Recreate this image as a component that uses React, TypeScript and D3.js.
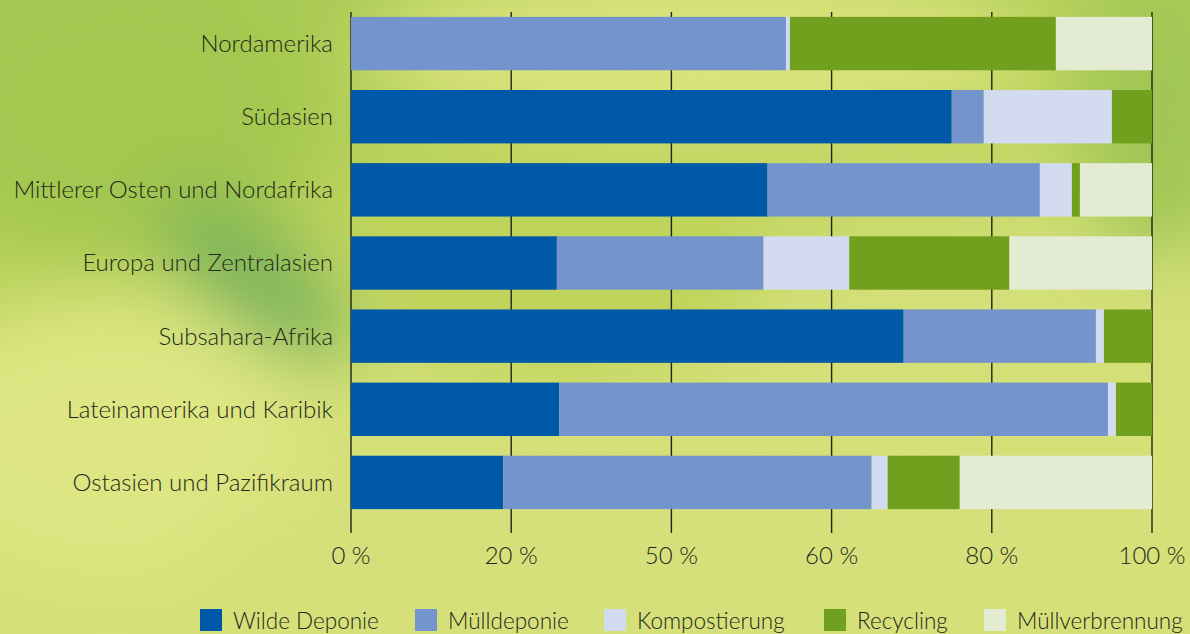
import React, { useRef, useEffect } from 'react';
import * as d3 from 'd3';

const regions = [
  'Nordamerika',
  'Südasien',
  'Mittlerer Osten und Nordafrika',
  'Europa und Zentralasien',
  'Subsahara-Afrika',
  'Lateinamerika und Karibik',
  'Ostasien und Pazifikraum',
];

const seriesNames = ['Wilde Deponie', 'Mülldeponie', 'Kompostierung', 'Recycling', 'Müllverbrennung'];
const seriesColors = ['#0058a8', '#7394cc', '#d2dbef', '#70a01e', '#e3ebd3'];

// percent per region, in region order
const wildeDeponie = [0, 75, 52, 25.7, 69, 26, 19];
const muelldeponie = [54.3, 4, 34, 25.8, 24, 68.5, 46];
const kompostierung = [0.5, 16, 4, 10.7, 1, 1, 2];
const recycling = [33.2, 5, 1, 20, 6, 4.5, 9];
const muellverbrennung = [12, 0, 9, 17.8, 0, 0, 24];

const tickValues = [0, 20, 40, 60, 80, 100];
const tickLabels = ['0 %', '20 %', '50 %', '60 %', '80 %', '100 %'];

const W = 1190;
const H = 634;
const FONT = 'Lato, "Open Sans", sans-serif';
const TEXT = '#24281a';

function Chart() {
  const svgRef = useRef<SVGSVGElement>(null);

  useEffect(() => {
    const svg = d3.select(svgRef.current);
    svg.selectAll('*').remove();

    const margin = { top: 17, left: 351, right: 38, bottom: 125 };
    const x = d3.scaleLinear().domain([0, 100]).range([margin.left, W - margin.right]);
    const y = d3
      .scaleBand()
      .domain(regions)
      .range([margin.top - 10, H - margin.bottom + 10])
      .paddingInner(0.27)
      .paddingOuter(0.135);

    // background
    const defs = svg.append('defs');
    const bg = defs
      .append('linearGradient')
      .attr('id', 'bg')
      .attr('x1', 0)
      .attr('y1', 0)
      .attr('x2', 0.35)
      .attr('y2', 1);
    bg.append('stop').attr('offset', '0%').attr('stop-color', '#a7c953');
    bg.append('stop').attr('offset', '40%').attr('stop-color', '#bcd35c');
    bg.append('stop').attr('offset', '65%').attr('stop-color', '#d3df78');
    bg.append('stop').attr('offset', '100%').attr('stop-color', '#d6e077');
    defs
      .append('filter')
      .attr('id', 'blur')
      .attr('filterUnits', 'userSpaceOnUse')
      .attr('x', -200)
      .attr('y', -200)
      .attr('width', W + 400)
      .attr('height', H + 400)
      .append('feGaussianBlur')
      .attr('stdDeviation', 35);

    svg.append('rect').attr('width', W).attr('height', H).attr('fill', 'url(#bg)');
    const blobs = svg.append('g').attr('filter', 'url(#blur)');
    blobs.append('ellipse').attr('cx', 700).attr('cy', 50).attr('rx', 330).attr('ry', 80).attr('fill', '#dbe47e');
    blobs.append('ellipse').attr('cx', 120).attr('cy', 110).attr('rx', 200).attr('ry', 150).attr('fill', '#a3c74f');
    blobs.append('ellipse').attr('cx', 1160).attr('cy', 110).attr('rx', 80).attr('ry', 150).attr('fill', '#a0c655');
    blobs.append('ellipse').attr('cx', 110).attr('cy', 440).attr('rx', 200).attr('ry', 140).attr('fill', '#dde682');
    blobs.append('ellipse').attr('cx', 700).attr('cy', 550).attr('rx', 500).attr('ry', 110).attr('fill', '#d6e07a');
    blobs
      .append('ellipse')
      .attr('cx', 255)
      .attr('cy', 280)
      .attr('rx', 115)
      .attr('ry', 50)
      .attr('transform', 'rotate(40 255 280)')
      .attr('fill', '#7cb45a');
    blobs.append('ellipse').attr('cx', 560).attr('cy', 260).attr('rx', 200).attr('ry', 120).attr('fill', '#bfd45a');

    // vertical grid / tick lines
    svg
      .append('g')
      .selectAll('line')
      .data(tickValues)
      .join('line')
      .attr('x1', (d) => x(d))
      .attr('x2', (d) => x(d))
      .attr('y1', 12)
      .attr('y2', 533)
      .attr('stroke', '#1e2410')
      .attr('stroke-width', 1.4);

    // stacked bars
    const seriesData = [wildeDeponie, muelldeponie, kompostierung, recycling, muellverbrennung];
    const rows = regions.map((r, i) => {
      const row: Record<string, number | string> = { region: r };
      seriesNames.forEach((s, k) => (row[s] = seriesData[k][i]));
      return row;
    });
    const stack = d3.stack<Record<string, number | string>>().keys(seriesNames).value((d, k) => d[k] as number);
    const stacked = stack(rows);

    svg
      .append('g')
      .selectAll('g')
      .data(stacked)
      .join('g')
      .attr('fill', (_, i) => seriesColors[i])
      .selectAll('rect')
      .data((d) => d)
      .join('rect')
      .attr('x', (d) => x(d[0]))
      .attr('width', (d) => Math.max(0, x(d[1]) - x(d[0])))
      .attr('y', (d) => y(d.data.region as string)!)
      .attr('height', y.bandwidth());

    // category labels
    svg
      .append('g')
      .selectAll('text')
      .data(regions)
      .join('text')
      .attr('x', 333)
      .attr('y', (d) => y(d)! + y.bandwidth() / 2)
      .attr('dy', '0.35em')
      .attr('text-anchor', 'end')
      .attr('font-family', FONT)
      .attr('font-weight', 300)
      .attr('font-size', 24)
      .attr('fill', TEXT)
      .text((d) => d);

    // x tick labels
    svg
      .append('g')
      .selectAll('text')
      .data(tickValues)
      .join('text')
      .attr('x', (d) => x(d))
      .attr('y', 556)
      .attr('dy', '0.35em')
      .attr('text-anchor', 'middle')
      .attr('font-family', FONT)
      .attr('font-weight', 300)
      .attr('font-size', 24)
      .attr('fill', TEXT)
      .text((_, i) => tickLabels[i]);

    // legend
    const legendX = [200, 415, 604, 824, 984];
    const lg = svg
      .append('g')
      .selectAll('g')
      .data(seriesNames)
      .join('g')
      .attr('transform', (_, i) => `translate(${legendX[i]}, 609)`);
    lg.append('rect')
      .attr('width', 22)
      .attr('height', 22)
      .attr('fill', (_, i) => seriesColors[i]);
    lg.append('text')
      .attr('x', 33)
      .attr('y', 12)
      .attr('dy', '0.35em')
      .attr('font-family', FONT)
      .attr('font-weight', 300)
      .attr('font-size', 22.5)
      .attr('fill', TEXT)
      .text((d) => d);
  }, []);

  return <svg ref={svgRef} width={W} height={H} style={{ display: 'block' }} />;
}

export default function App() {
  return (
    <div style={{ position: 'fixed', left: 0, top: 0, width: W, height: H, overflow: 'hidden' }}>
      <Chart />
    </div>
  );
}
